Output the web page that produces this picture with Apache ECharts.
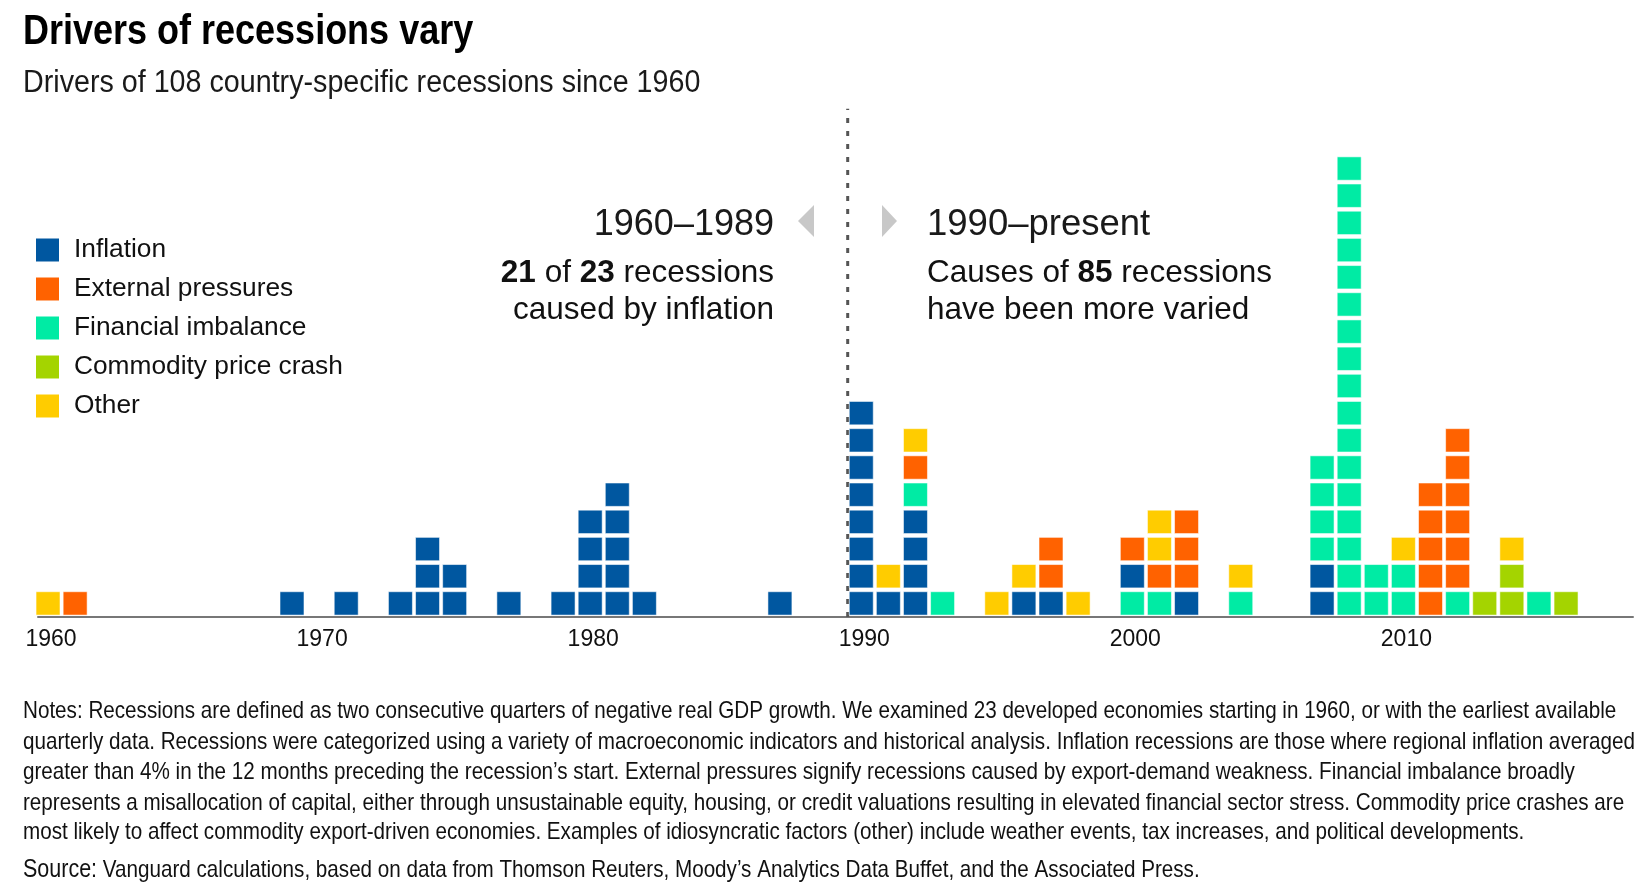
<!DOCTYPE html>
<html>
<head>
<meta charset="utf-8">
<script src="https://cdn.jsdelivr.net/npm/echarts@6/dist/echarts.min.js"></script>
<style>
html,body{margin:0;padding:0;background:#fff;}
#chart{width:1650px;height:895px;}
</style>
</head>
<body>
<div id="chart"></div>
<script>
// ---- data ----
const categories = ['Inflation', 'External pressures', 'Financial imbalance', 'Commodity price crash', 'Other'];
const colors = ['#0057a0', '#ff6200', '#00eba4', '#a4d400', '#ffcc00'];
const years = [1960, 1961, 1969, 1971, 1973, 1974, 1975, 1977, 1979, 1980, 1981, 1982, 1987,
  1990, 1991, 1992, 1993, 1995, 1996, 1997, 1998, 2000, 2001, 2002, 2004,
  2007, 2008, 2009, 2010, 2011, 2012, 2013, 2014, 2015, 2016];
// cause of each recession, stacked bottom -> top (index into categories)
const stacks = [
  [4], [1], [0], [0], [0], [0, 0, 0], [0, 0], [0], [0], [0, 0, 0, 0], [0, 0, 0, 0, 0], [0], [0],
  [0, 0, 0, 0, 0, 0, 0, 0], [0, 4], [0, 0, 0, 0, 2, 1, 4], [2], [4], [0, 4], [0, 1, 1], [4],
  [2, 0, 1], [2, 1, 4, 4], [0, 1, 1, 1], [2, 4],
  [0, 0, 2, 2, 2, 2], [2, 2, 2, 2, 2, 2, 2, 2, 2, 2, 2, 2, 2, 2, 2, 2, 2], [2, 2], [2, 2, 4],
  [1, 1, 1, 1, 1], [2, 1, 1, 1, 1, 1, 1], [3], [3, 3, 4], [2], [3]
];
const tickLabels = [1960, 1970, 1980, 1990, 2000, 2010];
const dividerYear = 1989.5;

const noteLines = [
  'Recessions are defined as two consecutive quarters of negative real GDP growth. We examined 23 developed economies starting in 1960, or with the earliest available',
  'quarterly data. Recessions were categorized using a variety of macroeconomic indicators and historical analysis. Inflation recessions are those where regional inflation averaged',
  'greater than 4% in the 12 months preceding the recession’s start. External pressures signify recessions caused by export-demand weakness. Financial imbalance broadly',
  'represents a misallocation of capital, either through unsustainable equity, housing, or credit valuations resulting in elevated financial sector stress. Commodity price crashes are',
  'most likely to affect commodity export-driven economies. Examples of idiosyncratic factors (other) include weather events, tax increases, and political developments.'
];
const sourceText = 'Vanguard calculations, based on data from Thomson Reuters, Moody’s Analytics Data Buffet, and the Associated Press.';

// ---- build series ----
const perCat = categories.map(() => []);
years.forEach((y, i) => {
  stacks[i].forEach((c, lvl) => { perCat[c].push([y, lvl, c]); });
});

function renderCell(params, api) {
  const x = api.value(0), lvl = api.value(1);
  const p0 = api.coord([x, lvl]);
  const p1 = api.coord([x, lvl + 1]);
  const cellW = api.size([1, 0])[0];
  const cellH = p0[1] - p1[1];
  const w = cellW * 0.885;
  return {
    type: 'rect',
    shape: { x: p0[0] - w / 2, y: p1[1] + cellH * 0.07, width: w, height: cellH * 0.86 },
    style: { fill: api.visual('color'), stroke: 'rgba(255,255,255,0.55)', lineWidth: 1 }
  };
}

const SANS = "'Liberation Sans', Arial, sans-serif";

const series = categories.map((name, c) => ({
  name: name,
  type: 'custom',
  renderItem: renderCell,
  itemStyle: { color: colors[c] },
  encode: { x: 0, y: 1 },
  data: perCat[c],
  silent: true,
  z: 3
}));
series.push({
  name: 'divider',
  type: 'line',
  data: [[dividerYear, 0], [dividerYear, 18.7]],
  showSymbol: false,
  silent: true,
  lineStyle: { color: '#555', width: 3, type: [5, 8] },
  z: 2
});

const graphics = [
  { type: 'text', x: 23, y: 32, scaleX: 0.857, style: { text: 'Drivers of recessions vary', font: "bold 42px " + SANS, fill: '#000', verticalAlign: 'middle' } },
  { type: 'text', x: 23, y: 83, scaleX: 0.925, style: { text: 'Drivers of 108 country-specific recessions since 1960', font: "31px " + SANS, fill: '#1a1a1a', verticalAlign: 'middle' } },
  { type: 'text', x: 774, y: 225, style: { text: '1960–1989', font: "36px " + SANS, fill: '#1a1a1a', align: 'right', verticalAlign: 'middle' } },
  { type: 'text', x: 774, y: 273, style: { text: '{b|21} of {b|23} recessions', font: "31.5px " + SANS, fill: '#111', align: 'right', verticalAlign: 'middle',
      rich: { b: { font: "bold 31.5px " + SANS, fill: '#111' } } } },
  { type: 'text', x: 774, y: 310, style: { text: 'caused by inflation', font: "31.5px " + SANS, fill: '#111', align: 'right', verticalAlign: 'middle' } },
  { type: 'text', x: 927, y: 225, style: { text: '1990–present', font: "36.5px " + SANS, fill: '#1a1a1a', align: 'left', verticalAlign: 'middle' } },
  { type: 'text', x: 927, y: 273, style: { text: 'Causes of {b|85} recessions', font: "31.5px " + SANS, fill: '#111', align: 'left', verticalAlign: 'middle',
      rich: { b: { font: "bold 31.5px " + SANS, fill: '#111' } } } },
  { type: 'text', x: 927, y: 310, style: { text: 'have been more varied', font: "31.5px " + SANS, fill: '#111', align: 'left', verticalAlign: 'middle' } },
  { type: 'polygon', shape: { points: [[798, 221], [814, 205], [814, 237]] }, style: { fill: '#c8c8c8' } },
  { type: 'polygon', shape: { points: [[882, 205], [897, 221], [882, 237]] }, style: { fill: '#c8c8c8' } }
];
const noteY = [711, 742, 772, 803, 832];
noteLines.forEach((t, i) => {
  graphics.push({ type: 'text', x: 23, y: noteY[i], scaleX: 0.86, style: {
    text: (i === 0 ? '{h|Notes:} ' : '') + t, font: "24px " + SANS, fill: '#111', verticalAlign: 'middle',
    rich: { h: { font: "24px " + SANS, fill: '#111' } } } });
});
graphics.push({ type: 'text', x: 23, y: 870, scaleX: 0.86, style: {
  text: '{h|Source:} ' + sourceText, font: "24px " + SANS, fill: '#111', verticalAlign: 'middle',
  rich: { h: { font: "25px " + SANS, fill: '#111' } } } });

const chart = echarts.init(document.getElementById('chart'), null, { renderer: 'canvas' });
chart.setOption({
  animation: false,
  color: colors,
  grid: { left: 38, right: 17, top: 103.3, bottom: 278, containLabel: false },
  xAxis: {
    type: 'value', min: 1959.63, max: 2018.47,
    axisLine: { show: true, lineStyle: { color: '#777', width: 2 } },
    axisTick: { show: false },
    splitLine: { show: false },
    axisLabel: { customValues: tickLabels, fontSize: 23, fontFamily: SANS, color: '#111', margin: 11, padding: [0, 0, 0, 6],
      formatter: v => String(v) }
  },
  yAxis: { type: 'value', min: 0, max: 18.9, show: false, splitLine: { show: false } },
  legend: {
    data: categories, orient: 'vertical', left: 36, top: 237, icon: 'rect',
    itemWidth: 23, itemHeight: 23, itemGap: 13, padding: 0, selectedMode: false,
    textStyle: { fontSize: 26.3, fontFamily: SANS, color: '#111', padding: [0, 0, 0, 10] }
  },
  graphic: graphics,
  series: series
});
</script>
</body>
</html>
